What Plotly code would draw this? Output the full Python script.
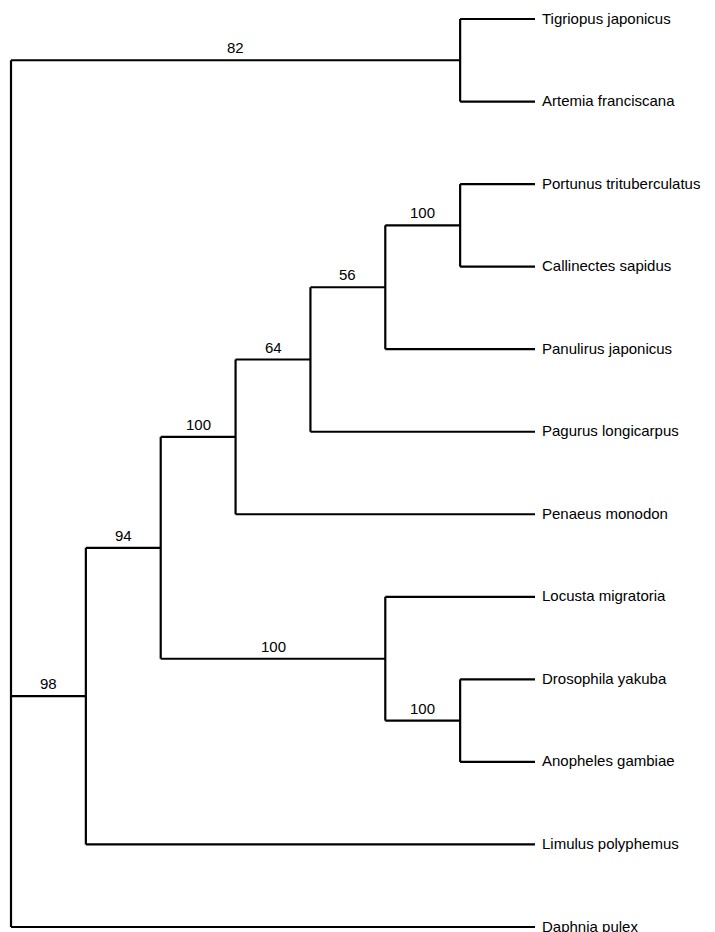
import plotly.graph_objects as go

# ---- data ----
taxa = [
    "Tigriopus japonicus", "Artemia franciscana", "Portunus trituberculatus",
    "Callinectes sapidus", "Panulirus japonicus", "Pagurus longicarpus",
    "Penaeus monodon", "Locusta migratoria", "Drosophila yakuba",
    "Anopheles gambiae", "Limulus polyphemus", "Daphnia pulex",
]
# internal clades: (children, bootstrap support); children are taxon indices or clade keys
clades = {
    "A": ([0, 1], 82),
    "B": ([2, 3], 100),
    "C": (["B", 4], 56),
    "D": (["C", 5], 64),
    "E": (["D", 6], 100),
    "F": ([8, 9], 100),
    "G": ([7, "F"], 100),
    "H": (["E", "G"], 94),
    "I": (["H", 10], 98),
    "root": (["A", "I", 11], None),
}

# ---- layout computation from tree structure ----
def height(n):
    if isinstance(n, int):
        return 0
    return 1 + max(height(c) for c in clades[n][0])

H = height("root")

def xpos(n):
    return H - height(n)

def ypos(n):
    if isinstance(n, int):
        return n
    ch = clades[n][0]
    return (ypos(ch[0]) + ypos(ch[-1])) / 2

FONT = "Liberation Sans, Arial, Helvetica, sans-serif"
xs, ys = [], []
ann = []

def walk(n):
    if isinstance(n, int):
        return
    kids = clades[n][0]
    xn = xpos(n)
    # vertical connector
    xs.extend([xn, xn, None])
    ys.extend([ypos(kids[0]), ypos(kids[-1]), None])
    for c in kids:
        xc = xpos(c)
        yc = ypos(c)
        xs.extend([xn, xc, None])
        ys.extend([yc, yc, None])
        if not isinstance(c, int) and clades[c][1] is not None:
            ann.append(dict(x=(xn + xc) / 2, y=yc, text=str(clades[c][1]),
                            showarrow=False, xanchor="center", yanchor="bottom",
                            yshift=2, font=dict(size=15, color="black", family=FONT)))
        walk(c)

walk("root")

for i, t in enumerate(taxa):
    ann.append(dict(x=H, y=i, text=t, showarrow=False, xanchor="left",
                    yanchor="middle", xshift=5, yshift=1,
                    font=dict(size=15, color="black", family=FONT)))

fig = go.Figure(go.Scatter(x=xs, y=ys, mode="lines",
                           line=dict(color="black", width=2.2),
                           hoverinfo="skip", showlegend=False))

px_per_x = (535 - 11) / H
px_per_y = (927 - 19) / (len(taxa) - 1)
fig.update_layout(
    width=715, height=932,
    margin=dict(l=0, r=0, t=0, b=0),
    paper_bgcolor="white", plot_bgcolor="white",
    xaxis=dict(range=[-11 / px_per_x, (715 - 11) / px_per_x], visible=False, fixedrange=True),
    yaxis=dict(range=[(932 - 19) / px_per_y, -19 / px_per_y], visible=False, fixedrange=True),
    annotations=ann,
)
fig.write_html(
    "out.html",
    config={"displayModeBar": False},
    post_script="document.body.style.margin='0px';document.body.style.overflow='hidden';",
)
